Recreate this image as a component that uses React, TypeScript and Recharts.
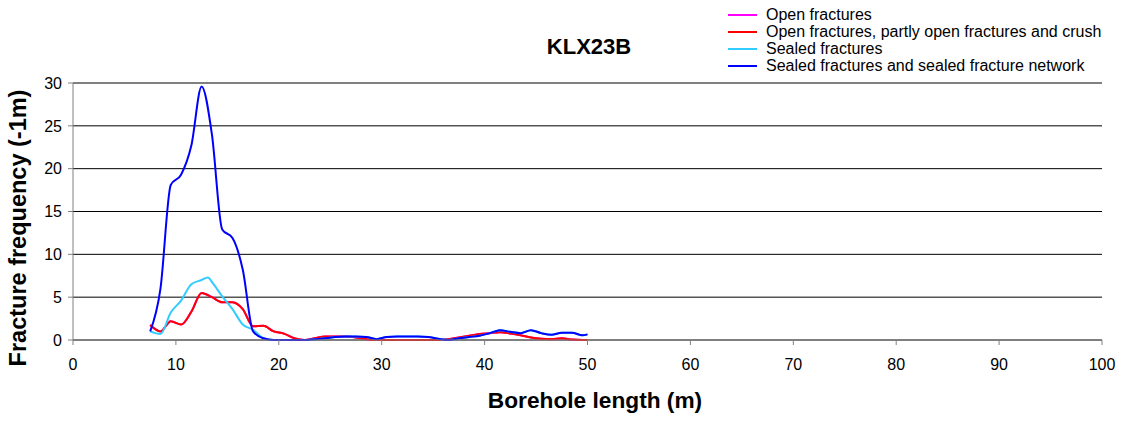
import { LineChart, Line, XAxis, YAxis, CartesianGrid, Label } from "recharts";

// depth positions (m) along the borehole
const depthsCore = [7.5, 8.5, 9.5, 10.5, 11.5, 12.5, 13.5, 14.5, 15.5, 16.5, 17.5, 18.5, 19.5];
const depthsSealedCore = [7.5, 8.5, 9.5, 10.5, 11.5, 12.5, 13.1, 13.6, 14.5, 15.5, 16.5, 17.5, 18.5, 19.5];
const depthsTail = [
  20.5, 21.5, 22.5, 23.5, 24.5, 25.5, 26.5, 27.5, 28.5, 29.5, 30.5, 31.5, 32.5, 33.5, 34.5,
  35.5, 36.5, 37.5, 38.5, 39.5, 40.5, 41.5, 42.5, 43.5, 44.5, 45.5, 46.5, 47.5, 48.5, 49.5, 50,
];

// open fractures, partly open fractures and crush
const openPartlyCore = [1.75, 1.0, 2.2, 1.8, 3.3, 5.5, 5.0, 4.4, 4.4, 3.6, 1.6, 1.65, 1.0];
const openPartlyTail = [
  0.75, 0.2, 0, 0.2, 0.4, 0.4, 0.4, 0.3, 0.1, 0, 0, 0, 0, 0, 0,
  0, 0.1, 0.3, 0.5, 0.7, 0.8, 0.9, 0.75, 0.55, 0.3, 0.15, 0.1, 0.2, 0.05, 0, 0,
];

// open fractures only (lies under the red line)
const openCore = [1.75, 1.0, 2.2, 1.8, 3.3, 5.5, 5.0, 4.4, 4.4, 3.6, 1.6, 1.65, 1.0];
const openTail = openPartlyTail;

// sealed fractures
const sealedCore = [1.0, 0.7, 3.2, 4.6, 6.5, 7.0, 7.3, 6.6, 5.1, 3.6, 1.8, 1.2, 0.2, 0];

// sealed fractures and sealed fracture network
const networkCore = [1.0, 6.0, 18.1, 19.3, 22.7, 29.6, 24.0, 12.9, 11.9, 8.2, 1.0, 0.2, 0];
const networkTail = [
  0, 0, 0, 0.1, 0.2, 0.35, 0.4, 0.4, 0.35, 0.1, 0.35, 0.4, 0.4, 0.4, 0.35,
  0.15, 0, 0.2, 0.35, 0.5, 0.8, 1.15, 0.95, 0.8, 1.15, 0.8, 0.6, 0.85, 0.85, 0.55, 0.66,
];
const sealedTail = networkTail;

const xTicks = [0, 10, 20, 30, 40, 50, 60, 70, 80, 90, 100];
const yTicks = [0, 5, 10, 15, 20, 25, 30];

const toPoints = (coreDepths: number[], core: number[], tail: number[]) =>
  [...coreDepths, ...depthsTail].map((d, i) => ({
    depth: d,
    value: i < core.length ? core[i] : tail[i - core.length],
  }));

const series = [
  { name: "Open fractures", color: "#FF00FF", data: toPoints(depthsCore, openCore, openTail) },
  {
    name: "Open fractures, partly open fractures and crush",
    color: "#FF0000",
    data: toPoints(depthsCore, openPartlyCore, openPartlyTail),
  },
  {
    name: "Sealed fractures",
    color: "#33CCFF",
    data: toPoints(depthsSealedCore, sealedCore, sealedTail),
  },
  {
    name: "Sealed fractures and sealed fracture network",
    color: "#0000FF",
    data: toPoints(depthsCore, networkCore, networkTail),
  },
];

const font = "'Liberation Sans', Arial, sans-serif";

function LegendBox() {
  return (
    <div
      style={{
        position: "absolute",
        left: 728,
        top: 6,
        fontFamily: font,
        fontSize: 16,
        lineHeight: "17px",
        color: "#000",
        whiteSpace: "nowrap",
      }}
    >
      {series.map((s) => (
        <div key={s.name} style={{ display: "flex", alignItems: "center", height: 17 }}>
          <span
            style={{
              display: "inline-block",
              width: 29,
              height: 2,
              background: s.color,
              marginRight: 9,
            }}
          />
          <span>{s.name}</span>
        </div>
      ))}
    </div>
  );
}

export default function App() {
  return (
    <div style={{ position: "absolute", left: 0, top: 0, width: 1124, height: 421, background: "#fff" }}>
      <LineChart
        width={1124}
        height={421}
        margin={{ top: 83, right: 22, bottom: 51, left: 0 }}
      >
        <CartesianGrid vertical={false} stroke="#000" strokeWidth={1} />
        <XAxis
          dataKey="depth"
          type="number"
          domain={[0, 100]}
          ticks={xTicks}
          allowDuplicatedCategory={false}
          height={30}
          stroke="#808080"
          tickSize={5}
          tickMargin={14}
          tick={{ fill: "#000", fontSize: 16, fontFamily: font }}
        >
          <Label
            content={() => (
              <text
                x={595}
                y={408}
                textAnchor="middle"
                fontFamily={font}
                fontWeight="bold"
                fontSize={22.7}
              >
                Borehole length (m)
              </text>
            )}
          />
        </XAxis>
        <YAxis
          dataKey="value"
          type="number"
          domain={[0, 30]}
          ticks={yTicks}
          width={73}
          stroke="#808080"
          tickSize={5}
          tickMargin={6}
          tick={{ fill: "#000", fontSize: 16, fontFamily: font }}
        >
          <Label
            content={() => (
              <text
                x={26}
                y={228}
                transform="rotate(-90 26 228)"
                textAnchor="middle"
                fontFamily={font}
                fontWeight="bold"
                fontSize={23.5}
              >
                Fracture frequency (-1m)
              </text>
            )}
          />
        </YAxis>
        <YAxis
          yAxisId="border"
          orientation="right"
          width={0}
          domain={[0, 30]}
          tick={false}
          tickLine={false}
          stroke="#808080"
        />
        {series.map((s) => (
          <Line
            key={s.name}
            data={s.data}
            dataKey="value"
            name={s.name}
            type="monotone"
            stroke={s.color}
            strokeWidth={2}
            dot={false}
            activeDot={false}
            isAnimationActive={false}
          />
        ))}
      </LineChart>
      <div
        style={{
          position: "absolute",
          left: 0,
          width: 1178,
          top: 33,
          textAlign: "center",
          fontFamily: font,
          fontWeight: "bold",
          fontSize: 22,
          lineHeight: "28px",
        }}
      >
        KLX23B
      </div>
      <LegendBox />
    </div>
  );
}
